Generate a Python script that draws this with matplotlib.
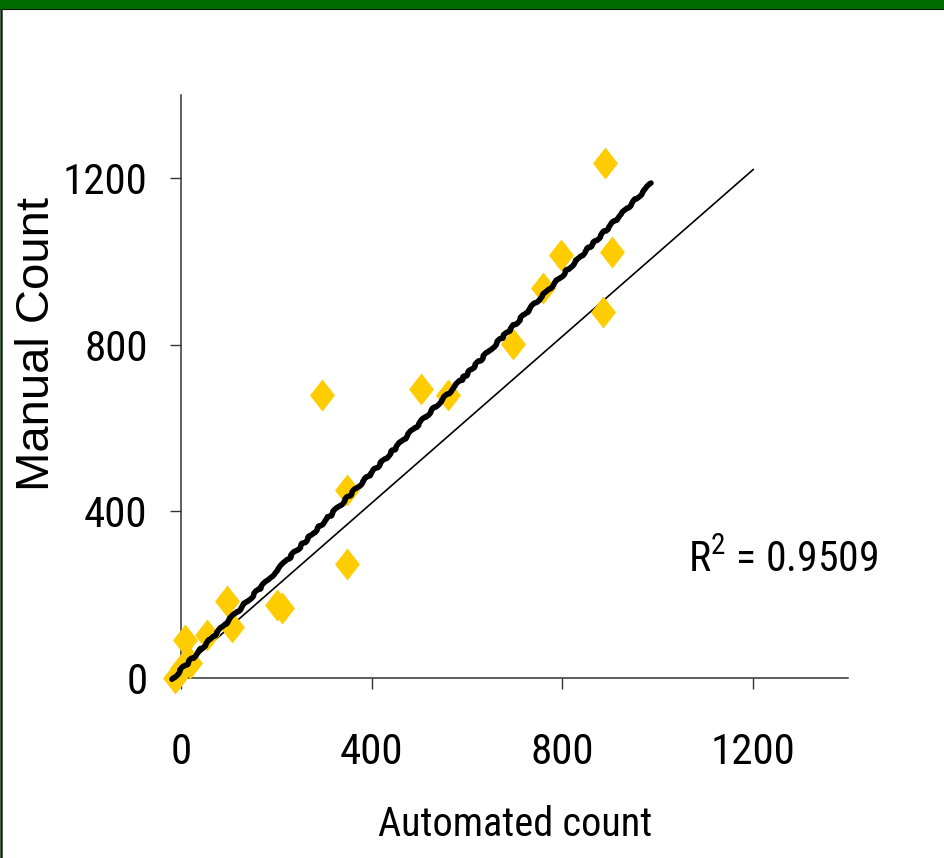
import numpy as np
import matplotlib
matplotlib.use("Agg")
import matplotlib.pyplot as plt
from matplotlib.path import Path
from matplotlib.patches import Rectangle
from matplotlib.lines import Line2D
from matplotlib import font_manager

# data
automated = [-12, 2, 19, 8, 55, 97, 107, 201, 212, 296,
             349, 349, 504, 561, 697, 760, 798, 886, 890, 905]
manual = [0, 24, 36, 91, 103, 185, 123, 175, 168, 679,
          451, 274, 693, 679, 801, 936, 1015, 878, 1236, 1022]

trend_x = [-19, 987]       # thick fitted line
trend_y = [-3, 1188]
ref_x = [-22, 1201]        # thin reference line
ref_y = [-2, 1221]

ticks = [0, 400, 800, 1200]
r2_text = "0.9509"

# a narrow face if there is one, else plain Liberation Sans
names = {f.name for f in font_manager.fontManager.ttflist}
fam = "Liberation Sans"
for cand in ["Liberation Sans Narrow", "Roboto Condensed", "Open Sans Condensed"]:
    if cand in names:
        fam = cand
        break
narrow = fam != "Liberation Sans"
plt.rcParams["font.family"] = [fam, "DejaVu Sans"]
plt.rcParams["mathtext.fontset"] = "custom"
plt.rcParams["mathtext.rm"] = fam
plt.rcParams["mathtext.it"] = fam

tick_fs = 31 if narrow else 28
xlab_fs = 29 if narrow else 27
r2_fs = 30 if narrow else 27

fig = plt.figure(figsize=(9.45, 8.58), dpi=100)
ax = fig.add_axes([181 / 945, 180 / 858, 667 / 945, 583 / 858])

# tall diamond marker
diamond = Path([(0, 1), (0.78, 0), (0, -1), (-0.78, 0), (0, 1)],
               [Path.MOVETO, Path.LINETO, Path.LINETO, Path.LINETO, Path.CLOSEPOLY])

ax.plot(ref_x, ref_y, color="black", lw=1.2, clip_on=False, zorder=2)
ax.plot(automated, manual, linestyle="none", marker=diamond, markersize=23,
        color="#FFCC00", markeredgewidth=0, clip_on=False, zorder=3)
thick, = ax.plot(trend_x, trend_y, color="black", lw=4.0, solid_capstyle="round",
                 clip_on=False, zorder=4)
thick.set_sketch_params(scale=1.0, length=25, randomness=6)

ax.set_xlim(0, 1400)
ax.set_ylim(0, 1400)
ax.set_xticks(ticks)
ax.set_yticks(ticks)
for s in ["top", "right"]:
    ax.spines[s].set_visible(False)
for s in ["left", "bottom"]:
    ax.spines[s].set_color("#333333")
    ax.spines[s].set_linewidth(1.1)
ax.tick_params(direction="out", length=8, width=1.0, color="#333333",
               labelsize=tick_fs)
ax.tick_params(axis="y", pad=16)
ax.tick_params(axis="x", pad=31)
ax.set_facecolor("white")

fig.text(37 / 945, 1 - 344 / 858, "Manual Count", rotation=90, fontsize=34,
         family=["Liberation Sans", "DejaVu Sans"], ha="center", va="center")
fig.text(515 / 945, 1 - 825 / 858, "Automated count", fontsize=xlab_fs,
         ha="center", va="center")
fig.text(688 / 945, 1 - 572 / 858, r"R$^2$ = " + r2_text, fontsize=r2_fs,
         ha="left", va="baseline")

# slide frame: green band on top, dark edge at left
fig.patches.append(Rectangle((0, 1 - 8 / 858), 1, 8 / 858, transform=fig.transFigure,
                             color="#006B00", zorder=10))
fig.lines.append(Line2D([0, 1], [1 - 9 / 858, 1 - 9 / 858], transform=fig.transFigure,
                        color="black", lw=1.5, zorder=10))
fig.lines.append(Line2D([1 / 945, 1 / 945], [0, 1 - 9 / 858], transform=fig.transFigure,
                        color="#0F2A0F", lw=1.8, zorder=10))

fig.savefig("out.png", dpi=100, facecolor="white")
